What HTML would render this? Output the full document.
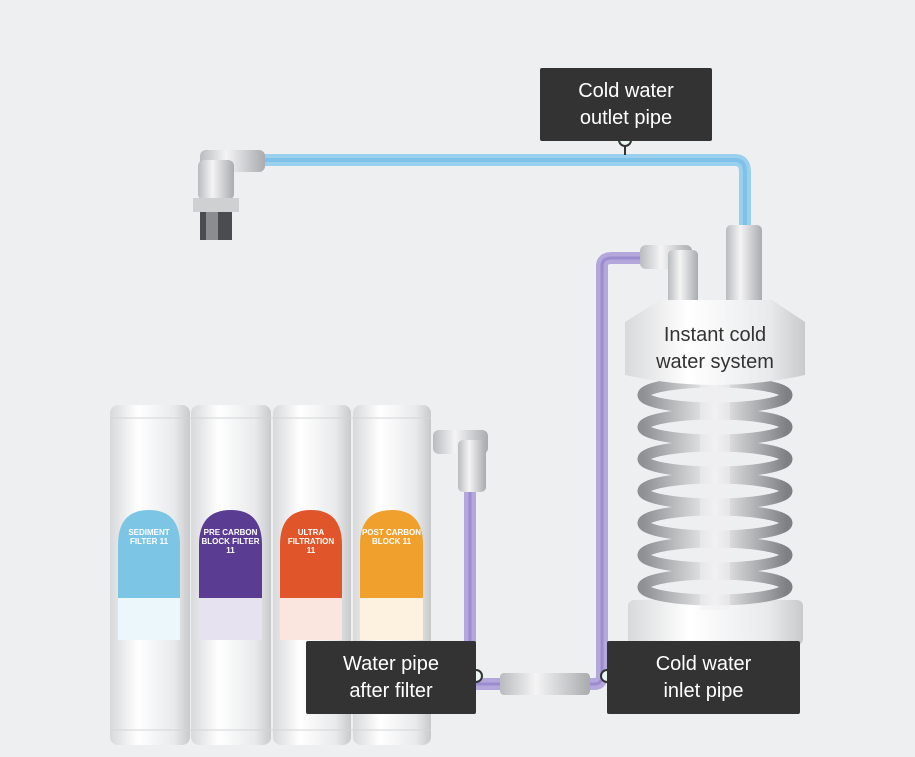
<!DOCTYPE html>
<html><head><meta charset="utf-8"><style>
html,body{margin:0;padding:0;background:#eeeff1;}
.w{position:relative;width:915px;height:757px;overflow:hidden;font-family:"Liberation Sans",sans-serif;}
.lb{position:absolute;background:#333333;color:#fff;font-size:20px;line-height:27px;text-align:center;border-radius:2px;display:flex;align-items:center;justify-content:center;}
.tx{position:absolute;color:#333;font-size:20px;line-height:27px;text-align:center;}
.fl{position:absolute;color:#fff;font-size:8px;line-height:9px;text-align:center;font-weight:bold;}
</style></head><body><div class="w">
<svg width="915" height="757" style="position:absolute;left:0;top:0">
<defs>
<linearGradient id="cyl" x1="0" x2="1"><stop offset="0" stop-color="#d8d9db"/><stop offset=".35" stop-color="#ffffff"/><stop offset=".8" stop-color="#e9eaec"/><stop offset="1" stop-color="#c9cacc"/></linearGradient>
<linearGradient id="met" x1="0" x2="1"><stop offset="0" stop-color="#b9bbbe"/><stop offset=".4" stop-color="#f4f4f5"/><stop offset="1" stop-color="#a9abae"/></linearGradient>
<linearGradient id="coil" x1="0" x2="1"><stop offset="0" stop-color="#8e9093"/><stop offset=".5" stop-color="#f2f2f3"/><stop offset="1" stop-color="#7d7f82"/></linearGradient>
</defs>
<path d="M262 160 H735 Q745 160 745 172 V235" fill="none" stroke="#9ad0ee" stroke-width="12"/>
<path d="M262 160 H735 Q745 160 745 172 V235" fill="none" stroke="#6db8e6" stroke-width="4" opacity=".6"/>
<path d="M470 485 V676 Q470 684 478 684 H594 Q602 684 602 676 V266 Q602 258 612 258 H645" fill="none" stroke="#b3a7dc" stroke-width="12"/>
<path d="M470 485 V676 Q470 684 478 684 H594 Q602 684 602 676 V266 Q602 258 612 258 H645" fill="none" stroke="#8b79c8" stroke-width="3" opacity=".6"/>
<rect x="200" y="150" width="65" height="22" rx="6" fill="url(#met)"/>
<rect x="198" y="160" width="36" height="40" rx="6" fill="url(#met)"/>
<rect x="193" y="198" width="46" height="14" fill="#cfd0d2"/>
<rect x="200" y="212" width="32" height="28" fill="#4a4c50"/>
<rect x="206" y="212" width="12" height="28" fill="#8a8c90"/>
<rect x="726" y="225" width="36" height="80" rx="5" fill="url(#met)"/>
<rect x="640" y="245" width="52" height="24" rx="6" fill="url(#met)"/>
<rect x="668" y="250" width="30" height="55" rx="5" fill="url(#met)"/>
<rect x="628" y="600" width="175" height="45" rx="6" fill="url(#cyl)"/>
<g fill="none" stroke="url(#coil)" stroke-width="11">
<ellipse cx="715" cy="395" rx="72" ry="13"/><ellipse cx="715" cy="427" rx="72" ry="13"/>
<ellipse cx="715" cy="459" rx="72" ry="13"/><ellipse cx="715" cy="491" rx="72" ry="13"/>
<ellipse cx="715" cy="523" rx="72" ry="13"/><ellipse cx="715" cy="555" rx="72" ry="13"/>
<ellipse cx="715" cy="587" rx="72" ry="13"/>
</g>
<rect x="700" y="380" width="30" height="230" fill="#f0f0f1" opacity=".5"/>
<path d="M660 300 H772 L805 322 V375 Q715 395 625 375 V322 Z" fill="url(#cyl)"/>
<g>
<rect x="110" y="405" width="80" height="340" rx="8" fill="url(#cyl)"/>
<rect x="191" y="405" width="80" height="340" rx="8" fill="url(#cyl)"/>
<rect x="273" y="405" width="78" height="340" rx="8" fill="url(#cyl)"/>
<rect x="353" y="405" width="78" height="340" rx="8" fill="url(#cyl)"/>
<g stroke="#d4d5d7" stroke-width="1"><line x1="110" y1="418" x2="431" y2="418"/><line x1="110" y1="730" x2="431" y2="730"/></g>
<path d="M118 640 V545 Q118 510 149 510 Q180 510 180 545 V640 Z" fill="#7cc5e5"/>
<path d="M199 640 V545 Q199 510 231 510 Q262 510 262 545 V640 Z" fill="#5a3c93"/>
<path d="M280 640 V545 Q280 510 311 510 Q342 510 342 545 V640 Z" fill="#e0552a"/>
<path d="M360 640 V545 Q360 510 392 510 Q423 510 423 545 V640 Z" fill="#f0a02c"/>
<rect x="118" y="598" width="62" height="42" fill="#fff" opacity=".85"/>
<rect x="199" y="598" width="63" height="42" fill="#fff" opacity=".85"/>
<rect x="280" y="598" width="62" height="42" fill="#fff" opacity=".85"/>
<rect x="360" y="598" width="63" height="42" fill="#fff" opacity=".85"/>
</g>
<rect x="433" y="430" width="55" height="24" rx="6" fill="url(#met)"/>
<rect x="458" y="440" width="28" height="52" rx="5" fill="url(#met)"/>
<rect x="500" y="673" width="90" height="22" rx="4" fill="url(#met)"/>
<line x1="625" y1="141" x2="625" y2="155" stroke="#333" stroke-width="2"/>
<circle cx="625" cy="140" r="6" fill="#e8f6f4" stroke="#333" stroke-width="2"/>
<circle cx="476" cy="676" r="6" fill="#e8f6f4" stroke="#333" stroke-width="2"/>
<circle cx="607" cy="676" r="6" fill="#e8f6f4" stroke="#333" stroke-width="2"/>
</svg>
<div class="fl" style="left:118px;top:528px;width:62px">SEDIMENT<br>FILTER 11</div>
<div class="fl" style="left:199px;top:528px;width:63px">PRE CARBON<br>BLOCK FILTER<br>11</div>
<div class="fl" style="left:280px;top:528px;width:62px">ULTRA<br>FILTRATION<br>11</div>
<div class="fl" style="left:360px;top:528px;width:63px">POST CARBON<br>BLOCK 11</div>
<div class="lb" style="left:540px;top:68px;width:172px;height:73px">Cold water<br>outlet pipe</div>
<div class="lb" style="left:306px;top:641px;width:170px;height:73px">Water pipe<br>after filter</div>
<div class="lb" style="left:607px;top:641px;width:193px;height:73px">Cold water<br>inlet pipe</div>
<div class="tx" style="left:635px;top:322px;width:160px">Instant cold<br>water system</div>
</div></body></html>
